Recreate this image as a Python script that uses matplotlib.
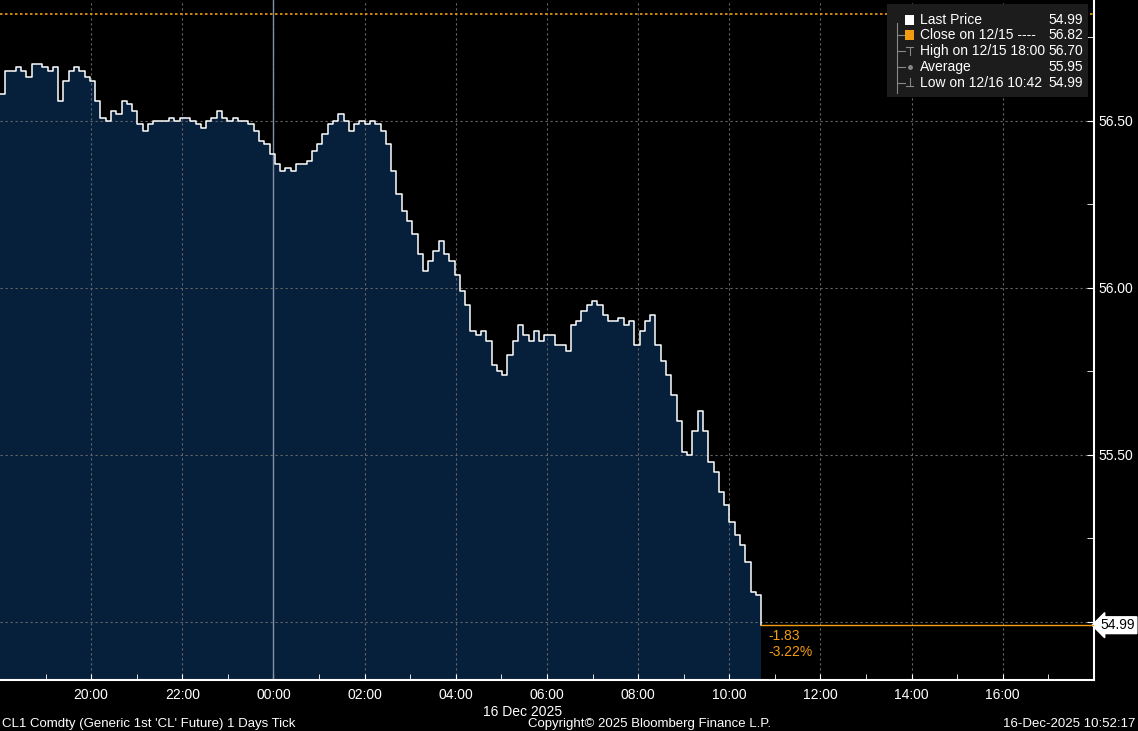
import matplotlib

matplotlib.use("Agg")
import matplotlib.pyplot as plt
import numpy as np
from matplotlib.patches import Rectangle

# closes, roughly every 6.5 minutes from 18:00 on 12/15
closes = [
    56.58, 56.65, 56.65, 56.66, 56.65, 56.63, 56.67, 56.67, 56.66, 56.65,
    56.66, 56.56, 56.62, 56.65, 56.66, 56.65, 56.63, 56.62, 56.56, 56.51,
    56.50, 56.53, 56.52, 56.56, 56.55, 56.53, 56.49, 56.47, 56.49, 56.50,
    56.50, 56.50, 56.51, 56.50, 56.51, 56.51, 56.50, 56.49, 56.48, 56.50,
    56.51, 56.53, 56.51, 56.50, 56.51, 56.50, 56.50, 56.49, 56.47, 56.44,
    56.43, 56.40, 56.37, 56.35, 56.36, 56.35, 56.37, 56.37, 56.38, 56.41,
    56.43, 56.46, 56.49, 56.50, 56.52, 56.50, 56.47, 56.49, 56.50, 56.49,
    56.50, 56.49, 56.47, 56.43, 56.35, 56.28, 56.23, 56.20, 56.16, 56.10,
    56.05, 56.08, 56.11, 56.14, 56.10, 56.08, 56.04, 55.99, 55.95, 55.87,
    55.86, 55.87, 55.84, 55.77, 55.75, 55.74, 55.80, 55.84, 55.89, 55.86,
    55.84, 55.87, 55.84, 55.86, 55.86, 55.83, 55.83, 55.81, 55.89, 55.90,
    55.93, 55.95, 55.96, 55.95, 55.92, 55.90, 55.90, 55.91, 55.89, 55.90,
    55.83, 55.87, 55.90, 55.92, 55.83, 55.78, 55.74, 55.68, 55.60, 55.51,
    55.50, 55.57, 55.63, 55.57, 55.48, 55.45, 55.39, 55.35, 55.30, 55.26,
    55.23, 55.18, 55.09, 55.08, 54.99,
]
last_hour = 16.7  # 10:42
prev_close = 56.82
last_price = 54.99
tick_hours = [2, 4, 6, 8, 10, 12, 14, 16, 18, 20, 22]
tick_labels = ["20:00", "22:00", "00:00", "02:00", "04:00", "06:00",
               "08:00", "10:00", "12:00", "14:00", "16:00"]
y_ticks = [55.0, 55.5, 56.0, 56.5]
y_labels = ["", "55.50", "56.00", "56.50"]

legend_rows = [
    ("Last Price", "54.99"),
    ("Close on 12/15 ----", "56.82"),
    ("High on 12/15 18:00", "56.70"),
    ("Average", "55.95"),
    ("Low on 12/16 10:42", "54.99"),
]

FILL = "#061f3b"
GRID = "#666666"
ORANGE = "#f39c12"
FONT = "Liberation Sans"

plt.rcParams["font.family"] = FONT
fig = plt.figure(figsize=(11.38, 7.31), dpi=100, facecolor="black")
ax = fig.add_axes([0.0, 0.0698, 0.9613, 0.9302], facecolor="black")

hours = np.linspace(0, last_hour, len(closes))
ax.fill_between(hours, closes, 54.0, step="post", color=FILL, lw=0, zorder=1)
ax.plot(hours, closes, drawstyle="steps-post", color="white", lw=1.1, zorder=3)

ax.set_xlim(0, 24)
ax.set_ylim(54.826, 56.862)

ax.set_xticks(tick_hours)
ax.set_xticklabels(tick_labels)
ax.set_xticks(np.arange(1, 24, 2), minor=True)
ax.set_yticks(y_ticks)
ax.set_yticklabels(y_labels)
ax.set_yticks([55.25, 55.75, 56.25, 56.75], minor=True)
ax.yaxis.tick_right()
ax.tick_params(axis="x", which="both", colors="white", direction="in", length=4,
               labelsize=10, pad=6)
ax.tick_params(axis="y", which="both", colors="white", direction="in", length=5,
               labelsize=10, pad=3)
for s in ["top", "left"]:
    ax.spines[s].set_visible(False)
for s in ["bottom", "right"]:
    ax.spines[s].set_color("white")
    ax.spines[s].set_linewidth(1.5)

ax.grid(True, color=GRID, ls=(0, (2, 2.5)), lw=0.8, zorder=2)
ax.axvline(6, color="#8090a5", lw=1.0, zorder=2)

ax.axhline(prev_close, color=ORANGE, ls=(0, (1.5, 1.5)), lw=1.2, zorder=2)
ax.plot([last_hour, 24], [last_price, last_price], color=ORANGE, lw=1.0, zorder=4)
ax.text(last_hour + 0.15, last_price - 0.01, "-1.83", color=ORANGE, fontsize=10,
        va="top")
ax.text(last_hour + 0.15, last_price - 0.058, "-3.22%", color=ORANGE, fontsize=10,
        va="top")
ax.annotate("54.99", xy=(1.0, last_price), xycoords=("axes fraction", "data"),
            xytext=(5, 0), textcoords="offset points", va="center", fontsize=10,
            color="black", annotation_clip=False,
            bbox=dict(boxstyle="larrow,pad=0.1", fc="white", ec="white"))

# legend box
lx0, ly0 = 0.779, 0.867
fig.patches.append(Rectangle((lx0, ly0), 0.177, 0.127, transform=fig.transFigure,
                             facecolor="#1c1c1c", edgecolor="none", zorder=5))
for i, (name, val) in enumerate(legend_rows):
    y = 0.973 - i * 0.0215
    fig.text(0.808, y, name, color="white", fontsize=10, va="center", zorder=6)
    fig.text(0.952, y, val, color="white", fontsize=10, va="center", ha="right", zorder=6)
fig.patches.append(Rectangle((0.795, 0.966), 0.0085, 0.0135, transform=fig.transFigure,
                             facecolor="white", zorder=6))
fig.patches.append(Rectangle((0.795, 0.945), 0.0085, 0.0135, transform=fig.transFigure,
                             facecolor=ORANGE, zorder=6))
grey = "#888888"
tf = fig.transFigure
fig.lines.append(plt.Line2D([0.7885, 0.7885], [0.873, 0.968], transform=tf,
                            color=grey, lw=0.8, zorder=6))
for y in [0.9515, 0.93, 0.9085, 0.887]:
    fig.lines.append(plt.Line2D([0.7885, 0.795], [y, y], transform=tf, color=grey,
                                lw=0.8, zorder=6))
# high / average / low glyphs
fig.lines.append(plt.Line2D([0.7995, 0.7995], [0.925, 0.936], transform=tf, color=grey, lw=0.8, zorder=6))
fig.lines.append(plt.Line2D([0.7965, 0.8025], [0.936, 0.936], transform=tf, color=grey, lw=0.8, zorder=6))
fig.lines.append(plt.Line2D([0.7995], [0.9085], transform=tf, color=grey, marker="o", ms=2.5, zorder=6))
fig.lines.append(plt.Line2D([0.7995, 0.7995], [0.882, 0.893], transform=tf, color=grey, lw=0.8, zorder=6))
fig.lines.append(plt.Line2D([0.7965, 0.8025], [0.882, 0.882], transform=tf, color=grey, lw=0.8, zorder=6))

fig.text(0.459, 0.017, "16 Dec 2025", color="white", fontsize=10, ha="center",
         va="bottom")
fig.text(0.002, 0.002, "CL1 Comdty (Generic 1st 'CL' Future) 1 Days Tick",
         color="white", fontsize=9.5, va="bottom")
fig.text(0.571, 0.002, "Copyright\u00a9 2025 Bloomberg Finance L.P.", color="white",
         fontsize=9.5, va="bottom", ha="center")
fig.text(0.998, 0.002, "16-Dec-2025 10:52:17", color="white", fontsize=9.5,
         va="bottom", ha="right")

fig.savefig("out.png", dpi=100, facecolor="black")
